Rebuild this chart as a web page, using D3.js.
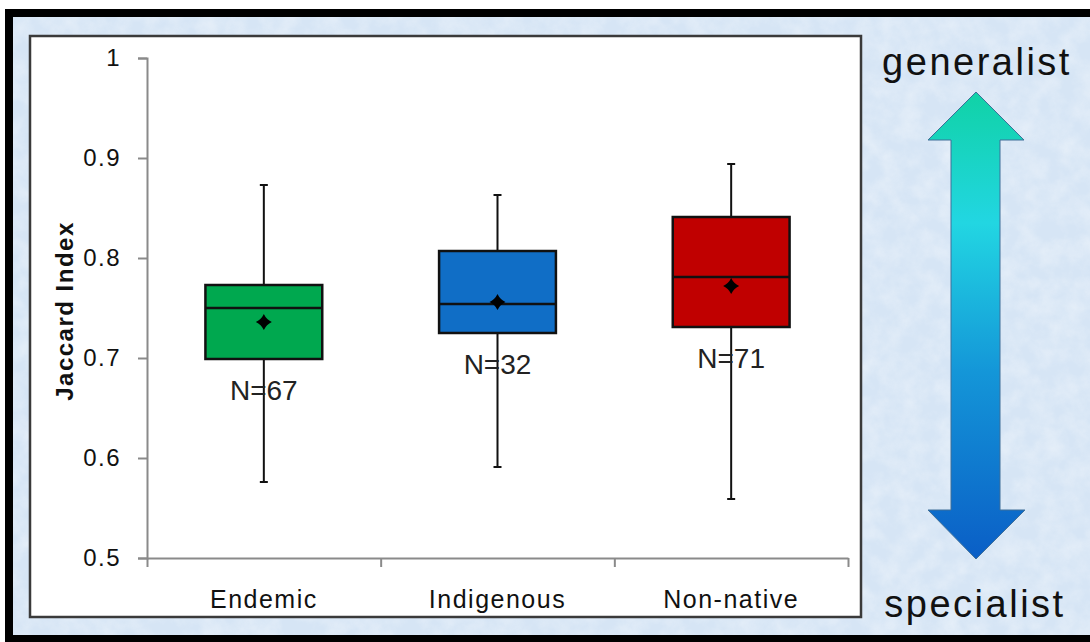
<!DOCTYPE html>
<html>
<head>
<meta charset="utf-8">
<script src="https://cdn.jsdelivr.net/npm/d3@7/dist/d3.min.js"></script>
<style>
  html, body { margin: 0; padding: 0; background: #fff; }
  svg { display: block; font-family: Arial, "Liberation Sans", sans-serif; }
</style>
</head>
<body>
<script>
// data
var categories = ['Endemic', 'Indigenous', 'Non-native'];
var whiskerHigh = [0.873, 0.863, 0.894];
var q3 = [0.773, 0.807, 0.841];
var median = [0.750, 0.754, 0.781];
var mean = [0.736, 0.756, 0.772];
var q1 = [0.699, 0.725, 0.731];
var whiskerLow = [0.576, 0.591, 0.559];
var nLabels = ['N=67', 'N=32', 'N=71'];
var boxColors = ['#00a84f', '#106ec6', '#c00000'];
var yTicks = [0.5, 0.6, 0.7, 0.8, 0.9, 1];

var width = 1090;
var height = 642;
var svg = d3.select('body').append('svg').attr('width', width).attr('height', height);
var defs = svg.append('defs');

// mottled light blue backdrop
var tex = defs.append('filter').attr('id', 'tex').attr('x', 0).attr('y', 0).attr('width', 1).attr('height', 1);
tex.append('feTurbulence').attr('type', 'fractalNoise').attr('baseFrequency', 0.05).attr('numOctaves', 4).attr('seed', 7);
tex.append('feColorMatrix').attr('type', 'matrix')
    .attr('values', '0 0 0 0 1  0 0 0 0 1  0 0 0 0 1  1.1 0 0 0 -0.35');

var grad = defs.append('linearGradient').attr('id', 'arrowGrad')
    .attr('x1', 0).attr('y1', 0).attr('x2', 0).attr('y2', 1);
grad.append('stop').attr('offset', '0%').attr('stop-color', '#10d2a6');
grad.append('stop').attr('offset', '28%').attr('stop-color', '#22d6e2');
grad.append('stop').attr('offset', '60%').attr('stop-color', '#1496d8');
grad.append('stop').attr('offset', '100%').attr('stop-color', '#0a5ec6');

svg.append('rect').attr('x', 0).attr('y', 0).attr('width', width).attr('height', height).attr('fill', '#fff');
svg.append('rect').attr('x', 5).attr('y', 9).attr('width', width - 5).attr('height', height - 9).attr('fill', '#000');
svg.append('rect').attr('x', 13).attr('y', 17).attr('width', width - 13).attr('height', 618)
    .attr('fill', '#d6e5f5');
svg.append('rect').attr('x', 13).attr('y', 17).attr('width', width - 13).attr('height', 618)
    .attr('fill', '#fff')
    .attr('filter', 'url(#tex)')
    .attr('opacity', 0.55);

// chart panel
svg.append('rect')
    .attr('x', 30).attr('y', 36).attr('width', 831).attr('height', 581)
    .attr('fill', '#fff').attr('stroke', '#3a3a3a').attr('stroke-width', 2.5);

var y = d3.scaleLinear().domain([0.5, 1]).range([558, 58]);
var x = d3.scaleBand().domain(categories).range([147, 848]);
var xEdges = d3.scaleLinear().domain([0, 3]).range([147, 848]);

// y axis
var yAxis = d3.axisLeft(y).tickValues(yTicks).tickSize(9).tickPadding(17)
    .tickFormat(function (d) { return d === 1 ? '1' : d3.format('.1f')(d); });
var gy = svg.append('g').attr('transform', 'translate(147,0)').call(yAxis);
gy.attr('font-size', 24).attr('font-family', null);
gy.select('.domain').attr('stroke', '#8a8a8a').attr('stroke-width', 2);
gy.selectAll('.tick line').attr('stroke', '#8a8a8a').attr('stroke-width', 2);
gy.selectAll('.tick text').attr('fill', '#111').style('letter-spacing', '1.5px');

// x axis: line with ticks on band edges
var xAxis = d3.axisBottom(xEdges).tickValues([0, 1, 2, 3]).tickSize(9).tickFormat('').tickSizeOuter(0);
var gx = svg.append('g').attr('transform', 'translate(0,558)').call(xAxis);
gx.select('.domain').attr('stroke', '#8a8a8a').attr('stroke-width', 2);
gx.selectAll('.tick line').attr('stroke', '#8a8a8a').attr('stroke-width', 2);

var gl = svg.append('g').attr('transform', 'translate(0,558)')
    .call(d3.axisBottom(x).tickSize(0).tickPadding(32));
gl.attr('font-size', 25).attr('font-family', null);
gl.select('.domain').remove();
gl.selectAll('.tick text').attr('fill', '#111').style('letter-spacing', '1.5px');

svg.append('text')
    .attr('transform', 'translate(73,311) rotate(-90)')
    .attr('text-anchor', 'middle')
    .attr('font-size', 24).attr('font-weight', 'bold').style('letter-spacing', '1.5px')
    .attr('fill', '#111')
    .text('Jaccard Index');

// boxes
var idx = d3.range(categories.length);
var boxW = x.bandwidth() * 0.5;
var g = svg.append('g');
var cx = function (i) { return x(categories[i]) + x.bandwidth() / 2; };

g.selectAll('.whisker').data(idx).enter().append('line')
    .attr('x1', cx).attr('x2', cx)
    .attr('y1', function (i) { return y(whiskerHigh[i]); })
    .attr('y2', function (i) { return y(whiskerLow[i]); })
    .attr('stroke', '#111').attr('stroke-width', 2);

[whiskerHigh, whiskerLow].forEach(function (arr) {
    g.selectAll(null).data(idx).enter().append('line')
        .attr('x1', function (i) { return cx(i) - 4; })
        .attr('x2', function (i) { return cx(i) + 4; })
        .attr('y1', function (i) { return y(arr[i]); })
        .attr('y2', function (i) { return y(arr[i]); })
        .attr('stroke', '#111').attr('stroke-width', 2);
});

g.selectAll('.box').data(idx).enter().append('rect')
    .attr('x', function (i) { return cx(i) - boxW / 2; })
    .attr('y', function (i) { return y(q3[i]); })
    .attr('width', boxW)
    .attr('height', function (i) { return y(q1[i]) - y(q3[i]); })
    .attr('fill', function (i) { return boxColors[i]; })
    .attr('stroke', '#111').attr('stroke-width', 2.5);

g.selectAll('.median').data(idx).enter().append('line')
    .attr('x1', function (i) { return cx(i) - boxW / 2; })
    .attr('x2', function (i) { return cx(i) + boxW / 2; })
    .attr('y1', function (i) { return y(median[i]); })
    .attr('y2', function (i) { return y(median[i]); })
    .attr('stroke', '#111').attr('stroke-width', 2.5);

// mean marker: pinched diamond like the original
var pinched = {
    draw: function (ctx, size) {
        var r = Math.sqrt(size) / 2, k = r * 0.32;
        ctx.moveTo(0, -r);
        ctx.quadraticCurveTo(k, -k, r, 0);
        ctx.quadraticCurveTo(k, k, 0, r);
        ctx.quadraticCurveTo(-k, k, -r, 0);
        ctx.quadraticCurveTo(-k, -k, 0, -r);
        ctx.closePath();
    }
};
g.selectAll('.mean').data(idx).enter().append('path')
    .attr('d', d3.symbol().type(pinched).size(256))
    .attr('transform', function (i) { return 'translate(' + cx(i) + ',' + y(mean[i]) + ')'; })
    .attr('fill', '#000');

g.selectAll('.nlab').data(idx).enter().append('text')
    .attr('x', cx)
    .attr('y', function (i) { return y(q1[i]) + 41; })
    .attr('text-anchor', 'middle')
    .attr('font-size', 28).attr('fill', '#222')
    .text(function (i) { return nLabels[i]; });

// generalist / specialist arrow
svg.append('path')
    .attr('d', 'M976,92 L1024,140 L1000,140 L1000,510 L1025,510 L976,559 L928,510 L951,510 L951,140 L928,140 Z')
    .attr('fill', 'url(#arrowGrad)')
    .attr('stroke', '#3f6f98').attr('stroke-width', 1);

svg.append('text').attr('x', 977).attr('y', 75).attr('text-anchor', 'middle')
    .attr('font-size', 38).style('letter-spacing', '2.5px').attr('fill', '#111')
    .text('generalist');
svg.append('text').attr('x', 975).attr('y', 617).attr('text-anchor', 'middle')
    .attr('font-size', 38).style('letter-spacing', '2.5px').attr('fill', '#111')
    .text('specialist');
</script>
</body>
</html>
